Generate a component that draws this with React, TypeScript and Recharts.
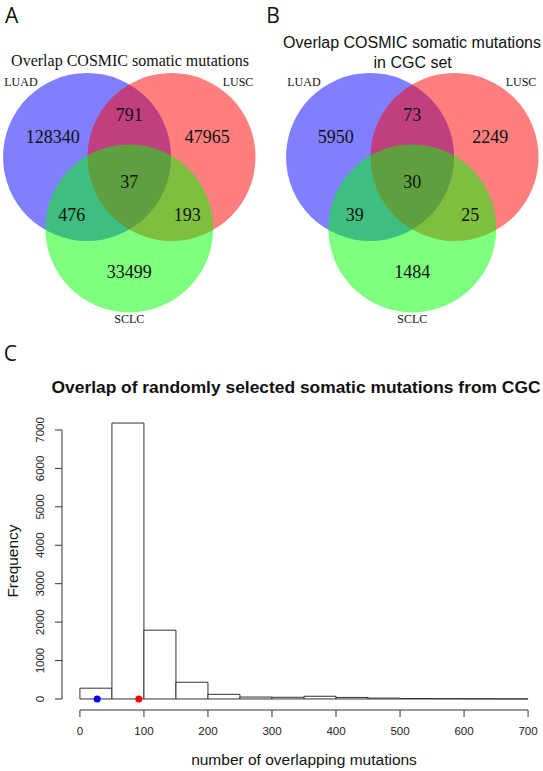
import React from 'react'
import {
  Bar,
  ComposedChart,
  ReferenceDot,
  ReferenceLine,
  Scatter,
  ScatterChart,
  XAxis,
  YAxis,
} from 'recharts'

// --- panels A / B: three-set venn counts ---
const setNames = ['LUAD', 'LUSC', 'SCLC']
// region order: LUAD only, LUAD&LUSC, LUSC only, all three, LUAD&SCLC, LUSC&SCLC, SCLC only
const cosmicCounts = [128340, 791, 47965, 37, 476, 193, 33499]
const cgcCounts = [5950, 73, 2249, 30, 39, 25, 1484]

// --- panel C: histogram of random overlaps ---
const binStarts = [0, 50, 100, 150, 200, 250, 300, 350, 400, 450, 500, 550, 600, 650]
const binCounts = [280, 7180, 1790, 435, 120, 50, 44, 70, 40, 22, 12, 8, 5, 3]
const BIN_WIDTH = 50
const xTicks = [0, 100, 200, 300, 400, 500, 600, 700]
const yTicks = [0, 1000, 2000, 3000, 4000, 5000, 6000, 7000]
const observedOverlaps = [27, 92]

// venn geometry, unit = circle radius
const circleCenters = [[-0.503, 0], [0.503, 0], [0, 0.85]]
const circleColors = ['#0000ff', '#ff0000', '#00ff00']
const regionAnchors = [
  [-0.912, -0.242], [0, -0.5], [0.929, -0.242], [0, 0.294],
  [-0.686, 0.69], [0.69, 0.69], [0, 1.365],
]
const setLabelAnchors = [[-1.29, -0.896], [1.294, -0.896], [0, 1.932]]
const dotColors = ['#0000ff', '#ff0000']

const PX = 84 // px per unit
const VENN_W = 272
const VENN_H = 340
const ORIGIN_X = 129.3
const ORIGIN_Y = 157

const SERIF = '"Liberation Serif", "Times New Roman", serif'
const SANS = '"Liberation Sans", Arial, sans-serif'

const circles = circleCenters.map(([x, y], i) => ({ x, y, color: circleColors[i] }))
const setLabels = setLabelAnchors.map(([x, y], i) => ({ x, y, name: setNames[i] }))

const Txt = ({ x, y, children, style }: any) => (
  <div
    style={{
      position: 'absolute',
      left: x,
      top: y,
      transform: 'translate(-50%, -50%)',
      lineHeight: 1,
      whiteSpace: 'nowrap',
      color: '#111',
      ...style,
    }}
  >
    {children}
  </div>
)

const VennPanel = ({ counts, left }: { counts: number[]; left: number }) => {
  const regions = regionAnchors.map(([x, y], i) => ({ x, y, value: counts[i] }))
  return (
    <div style={{ position: 'absolute', left, top: 0 }}>
      <ScatterChart width={VENN_W} height={VENN_H} margin={{ top: 0, right: 0, bottom: 0, left: 0 }}>
        <XAxis type="number" dataKey="x" hide allowDataOverflow
          domain={[-ORIGIN_X / PX, (VENN_W - ORIGIN_X) / PX]} />
        <YAxis type="number" dataKey="y" hide allowDataOverflow reversed
          domain={[-ORIGIN_Y / PX, (VENN_H - ORIGIN_Y) / PX]} />
        <Scatter
          data={circles}
          isAnimationActive={false}
          shape={(p: any) => (
            <circle cx={p.cx} cy={p.cy} r={PX} fill={p.payload.color} fillOpacity={0.5} />
          )}
        />
        <Scatter
          data={regions}
          isAnimationActive={false}
          shape={(p: any) => (
            <text x={p.cx} y={p.cy} textAnchor="middle" dominantBaseline="central"
              fontSize={18} fontFamily={SERIF} fill="#111">
              {p.payload.value}
            </text>
          )}
        />
        <Scatter
          data={setLabels}
          isAnimationActive={false}
          shape={(p: any) => (
            <text x={p.cx} y={p.cy} textAnchor="middle" dominantBaseline="central"
              fontSize={12} fontFamily={SERIF} fill="#111">
              {p.payload.name}
            </text>
          )}
        />
      </ScatterChart>
    </div>
  )
}

const RotatedTick = ({ x, y, payload }: any) => (
  <text x={x} y={y} transform={`rotate(-90, ${x}, ${y})`} textAnchor="middle"
    dominantBaseline="central" fontSize={11.5} fontFamily={SANS} fill="#222">
    {payload.value}
  </text>
)

const BottomTick = ({ x, y, payload }: any) => (
  <text x={x} y={y + 6} textAnchor="middle" dominantBaseline="central"
    fontSize={11.5} fontFamily={SANS} fill="#222">
    {payload.value}
  </text>
)

const Histogram = () => {
  const data = binStarts.map((s, i) => ({ mid: s + BIN_WIDTH / 2, count: binCounts[i] }))
  const xMax = xTicks[xTicks.length - 1]
  const yMax = Math.max(...binCounts)
  const xDomain = [-0.04 * xMax, 1.04 * xMax]
  const yDomain = [-0.04 * yMax, 1.04 * yMax]
  const yTop = yTicks[yTicks.length - 1]
  return (
    <div style={{ position: 'absolute', left: 0, top: 370 }}>
      <ComposedChart width={560} height={401} data={data} barCategoryGap={0} barGap={0}
        margin={{ top: 42, right: 14, bottom: 0, left: 0 }}>
        <XAxis type="number" dataKey="mid" domain={xDomain} allowDataOverflow ticks={xTicks}
          axisLine={false} tickSize={7} tickMargin={8} height={61}
          tickLine={{ stroke: '#333' }} tick={<BottomTick />} />
        <YAxis type="number" domain={yDomain} allowDataOverflow ticks={yTicks}
          axisLine={false} tickSize={7} tickMargin={15} width={62}
          tickLine={{ stroke: '#333' }} tick={<RotatedTick />} />
        <Bar dataKey="count" fill="#ffffff" stroke="#333" strokeWidth={1} isAnimationActive={false} />
        <ReferenceLine ifOverflow="visible" stroke="#333"
          segment={[{ x: 0, y: yDomain[0] }, { x: xMax, y: yDomain[0] }]} />
        <ReferenceLine ifOverflow="visible" stroke="#333"
          segment={[{ x: xDomain[0], y: 0 }, { x: xDomain[0], y: yTop }]} />
        {observedOverlaps.map((v, i) => (
          <ReferenceDot key={i} x={v} y={0} r={3.5} fill={dotColors[i]} stroke="none" ifOverflow="visible" />
        ))}
      </ComposedChart>
    </div>
  )
}

export default function App() {
  return (
    <div style={{ position: 'absolute', left: 0, top: 0, width: 543, height: 771, overflow: 'hidden', background: '#fff' }}>
      <VennPanel counts={cosmicCounts} left={0} />
      <VennPanel counts={cgcCounts} left={412 - ORIGIN_X} />
      <Histogram />

      <Txt x={11.7} y={15} style={{ fontFamily: '"Open Sans", sans-serif', fontSize: 21 }}>A</Txt>
      <Txt x={273} y={15} style={{ fontFamily: '"Open Sans", sans-serif', fontSize: 21 }}>B</Txt>
      <Txt x={10.4} y={353} style={{ fontFamily: '"Open Sans", sans-serif', fontSize: 21 }}>C</Txt>

      <Txt x={130} y={61} style={{ fontFamily: SERIF, fontSize: 16 }}>Overlap COSMIC somatic mutations</Txt>
      <Txt x={412} y={43.3} style={{ fontFamily: SANS, fontSize: 16 }}>Overlap COSMIC somatic mutations</Txt>
      <Txt x={412.7} y={63.3} style={{ fontFamily: SANS, fontSize: 16 }}>in CGC set</Txt>

      <Txt x={296} y={388} style={{ fontFamily: SANS, fontSize: 17.4, fontWeight: 700 }}>
        Overlap of randomly selected somatic mutations from CGC
      </Txt>
      <Txt x={13.3} y={561} style={{ fontFamily: SANS, fontSize: 15.5, transform: 'translate(-50%, -50%) rotate(-90deg)' }}>
        Frequency
      </Txt>
      <Txt x={304} y={760} style={{ fontFamily: SANS, fontSize: 15.5 }}>number of overlapping mutations</Txt>
    </div>
  )
}
